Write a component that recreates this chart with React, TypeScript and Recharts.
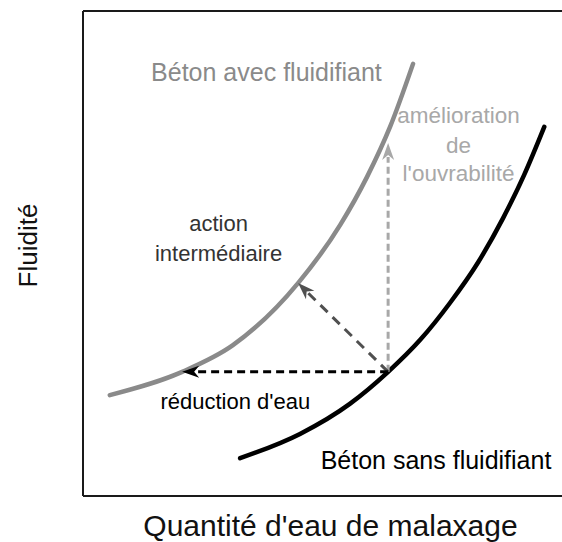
import React from 'react';
import { ComposedChart, Line, XAxis, YAxis, ReferenceLine, ReferenceDot, Label } from 'recharts';

// Fluidity vs water quantity, in arbitrary units (0-100 on both axes)
const withSuperplasticizer = [
  { x: 5.6, y: 20.8 },
  { x: 20.7, y: 25.6 },
  { x: 31.3, y: 31.1 },
  { x: 44.9, y: 43.9 },
  { x: 53.7, y: 55.9 },
  { x: 59.3, y: 65.8 },
  { x: 64.1, y: 76.1 },
  { x: 68.9, y: 89.1 },
];

const withoutSuperplasticizer = [
  { x: 32.8, y: 7.8 },
  { x: 45.3, y: 12.8 },
  { x: 55.7, y: 19.0 },
  { x: 63.7, y: 25.6 },
  { x: 70.4, y: 32.2 },
  { x: 76.6, y: 39.8 },
  { x: 82.5, y: 48.2 },
  { x: 87.7, y: 57.3 },
  { x: 92.1, y: 66.2 },
  { x: 96.3, y: 76.1 },
];

const arrowOrigin = { x: 63.7, y: 25.6 };
const waterReductionTip = { x: 20.7, y: 25.6 };
const intermediateTip = { x: 44.9, y: 43.9 };
const workabilityTip = { x: 63.7, y: 72.8 };

const xLabel = "Quantité d'eau de malaxage";
const yLabel = 'Fluidité';

const FONT = '"Liberation Sans", Arial, Helvetica, sans-serif';

const makeArrow = (color: string, dash: string, width: number) => (props: any) => {
  const { x1, y1, x2, y2 } = props;
  const dx = x2 - x1;
  const dy = y2 - y1;
  const len = Math.hypot(dx, dy) || 1;
  const ux = dx / len;
  const uy = dy / len;
  const hl = 17;
  const hw = 6;
  const bx = x2 - ux * hl;
  const by = y2 - uy * hl;
  const px = -uy;
  const py = ux;
  return (
    <g>
      <line x1={x1} y1={y1} x2={bx + ux * 3} y2={by + uy * 3} stroke={color} strokeWidth={width} strokeDasharray={dash} />
      <polygon
        points={`${x2},${y2} ${bx + px * hw},${by + py * hw} ${bx + ux * 5},${by + uy * 5} ${bx - px * hw},${by - py * hw}`}
        fill={color}
      />
    </g>
  );
};

const textLabel = (value: string, fill: string, fontSize: number) => ({
  value,
  position: 'center' as const,
  fill,
  fontSize,
  fontFamily: FONT,
});

export default function App() {
  return (
    <div style={{ position: 'absolute', left: 0, top: 0, width: 562, height: 542, background: '#fff' }}>
      <ComposedChart width={562} height={542} margin={{ top: 11, right: 0, bottom: 0, left: 0 }}>
        <XAxis
          type="number"
          dataKey="x"
          domain={[0, 100]}
          allowDataOverflow
          ticks={[]}
          tick={false}
          tickLine={false}
          height={46}
          axisLine={{ stroke: '#1a1a1a', strokeWidth: 2 }}
        >
          <Label
            content={(p: any) => {
              const vb = p.viewBox;
              return (
                <text x={vb.x + vb.width / 2 + 8} y={vb.y + 40} textAnchor="middle" fontSize={30} fontFamily={FONT} fill="#111">
                  {xLabel}
                </text>
              );
            }}
          />
        </XAxis>
        <YAxis
          type="number"
          dataKey="y"
          domain={[0, 100]}
          allowDataOverflow
          ticks={[]}
          tick={false}
          tickLine={false}
          width={83}
          axisLine={{ stroke: '#1a1a1a', strokeWidth: 2 }}
        >
          <Label
            content={(p: any) => {
              const vb = p.viewBox;
              const cx = vb.x + 37;
              const cy = vb.y + vb.height / 2 - 8;
              return (
                <text x={cx} y={cy} transform={`rotate(-90 ${cx} ${cy})`} textAnchor="middle" fontSize={26} fontFamily={FONT} fill="#111">
                  {yLabel}
                </text>
              );
            }}
          />
        </YAxis>
        <ReferenceLine y={100} stroke="#1a1a1a" strokeWidth={2} ifOverflow="visible" />

        <Line
          data={withSuperplasticizer}
          dataKey="y"
          type="monotone"
          stroke="#8a8a8a"
          strokeWidth={4.5}
          strokeLinecap="round"
          dot={false}
          activeDot={false}
          isAnimationActive={false}
        />
        <Line
          data={withoutSuperplasticizer}
          dataKey="y"
          type="monotone"
          stroke="#000"
          strokeWidth={4.5}
          strokeLinecap="round"
          dot={false}
          activeDot={false}
          isAnimationActive={false}
        />

        <ReferenceLine segment={[arrowOrigin, workabilityTip]} shape={makeArrow('#a8a8a8', '7 4', 3)} />
        <ReferenceLine segment={[arrowOrigin, intermediateTip]} shape={makeArrow('#505050', '10 7', 3)} />
        <ReferenceLine segment={[arrowOrigin, waterReductionTip]} shape={makeArrow('#000', '8 5', 3)} />

        <ReferenceDot x={38.3} y={87.4} r={0} fill="none" stroke="none" label={textLabel('Béton avec fluidifiant', '#8a8a8a', 25)} />
        <ReferenceDot x={78.4} y={78.6} r={0} fill="none" stroke="none" label={textLabel('amélioration', '#a8a8a8', 22.5)} />
        <ReferenceDot x={78.4} y={72.4} r={0} fill="none" stroke="none" label={textLabel('de', '#a8a8a8', 22.5)} />
        <ReferenceDot x={78.4} y={66.6} r={0} fill="none" stroke="none" label={textLabel("l'ouvrabilité", '#a8a8a8', 22.5)} />
        <ReferenceDot x={28.3} y={56.3} r={0} fill="none" stroke="none" label={textLabel('action', '#333', 22)} />
        <ReferenceDot x={28.3} y={50.1} r={0} fill="none" stroke="none" label={textLabel('intermédiaire', '#333', 22)} />
        <ReferenceDot x={31.8} y={19.6} r={0} fill="none" stroke="none" label={textLabel("réduction d'eau", '#000', 22)} />
        <ReferenceDot x={73.7} y={7.4} r={0} fill="none" stroke="none" label={textLabel('Béton sans fluidifiant', '#000', 25)} />
      </ComposedChart>
    </div>
  );
}
